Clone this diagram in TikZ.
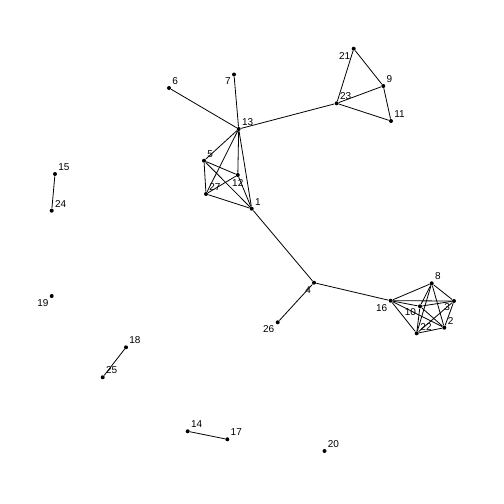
\documentclass[tikz,border=0pt]{standalone}
\usepackage{fontspec}
\setmainfont{Liberation Sans}

\begin{document}
\begin{tikzpicture}[x=1pt, y=-1pt, line width=0.8pt,
    every node/.style = {shape=circle, fill, inner sep=0pt, minimum size=4pt},
    every label/.style = {shape=rectangle, fill=none, inner sep=0.6pt, minimum size=0pt, font=\fontsize{10}{12}\selectfont, label distance=1pt}]
\useasboundingbox (0,0) rectangle (504,504);
% first group
\node[label=45:1]   (n1)  at (251.7,208.7) {};
\node[label=45:13]  (n13) at (238.7,129) {};
\node[label=45:5]   (n5)  at (204,160.7) {};
\node[label=270:12] (n12) at (237.8,175) {};
\node[label=45:27]  (n27) at (206,194) {};
\node[label=45:6]   (n6)  at (169,88) {};
\node[label=225:7]  (n7)  at (234,74.5) {};
% triangle
\node[label=225:21] (n21) at (353.7,48.7) {};
\node[label=45:9]   (n9)  at (383.3,86) {};
\node[label=45:23]  (n23) at (336.7,103.3) {};
\node[label=45:11]  (n11) at (391,121) {};
% second group
\node[label=235:4]  (n4)  at (314,282.7) {};
\node[label=225:26] (n26) at (277.7,322.3) {};
\node[label=225:16] (n16) at (390.7,300.7) {};
\node[label=45:8]   (n8)  at (431.7,283.3) {};
\node[label=205:3]  (n3)  at (454,301) {};
\node[label=205:10] (n10) at (420,306.3) {};
\node[label=35:22]  (n22) at (416.7,333.3) {};
\node[label=40:2]   (n2)  at (444.3,327.7) {};
% pairs and single
\node[label=45:15]  (n15) at (55,174) {};
\node[label=45:24]  (n24) at (51.7,210.7) {};
\node[label=230:19] (n19) at (51.7,296) {};
\node[label=45:18]  (n18) at (126,347.3) {};
\node[label=45:25]  (n25) at (102.7,377.3) {};
\node[label=45:14]  (n14) at (187.7,431.3) {};
\node[label=45:17]  (n17) at (227.3,439.3) {};
\node[label=45:20]  (n20) at (324.5,451) {};

\foreach \a/\b in {6/13,7/13,13/23,13/5,13/27,13/12,13/1,5/12,5/27,5/1,27/12,27/1,12/1,
    1/4,4/26,4/16,21/9,21/23,23/9,23/11,9/11,15/24,18/25,14/17}
    \draw (n\a) -- (n\b);
\foreach \a/\b in {16/8,16/3,16/10,16/22,16/2,8/3,8/10,8/22,8/2,3/10,3/22,3/2,10/22,10/2,22/2}
    \draw (n\a) -- (n\b);
\end{tikzpicture}
\end{document}
